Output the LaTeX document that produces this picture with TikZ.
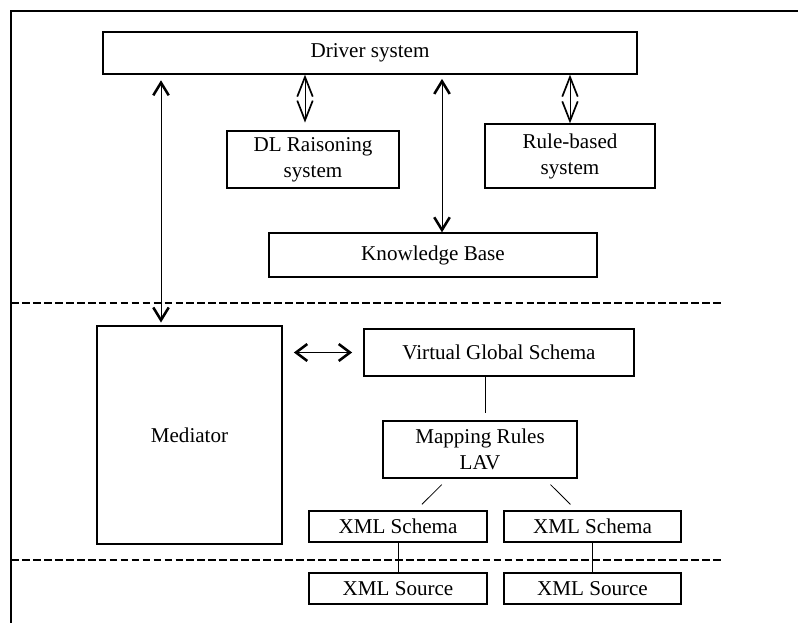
\documentclass[tikz,border=0pt]{standalone}
\usepackage{fontspec}
\setmainfont{Liberation Serif}
\usetikzlibrary{arrows.meta,calc,positioning}

\begin{document}
\begin{tikzpicture}[x=0.025cm,y=-0.025cm,semithick,font=\fontsize{15}{18.5}\selectfont]
  \tikzstyle{block}=[draw=black,line width=0.9pt,inner sep=0pt,align=center]
  \tikzstyle{longlink}=[{Straight Barb[length=9pt,width=11pt,line width=1.8pt]}-{Straight Barb[length=9pt,width=11pt,line width=1.8pt]}]
  \tikzstyle{shortlink}=[{Straight Barb[length=14pt,width=11pt,line width=1.2pt]}-{Straight Barb[length=14pt,width=11pt,line width=1.2pt]}]
  \tikzstyle{sidelink}=[{Straight Barb[length=8pt,width=12pt,line width=1.8pt]}-{Straight Barb[length=8pt,width=12pt,line width=1.8pt]}]
  \tikzstyle{layer}=[line width=1.9pt,dash pattern=on 5.5pt off 2.3pt]

  \useasboundingbox (0,0) rectangle (798,623);

  % frame
  \draw[line width=1pt] (798,11) -- (11,11) -- (11,623);

  % upper layer
  \node[block,minimum width=13.35cm,minimum height=1.05cm] (drv)  at (370,53)    {Driver system};
  \node[block,minimum width=4.3cm,minimum height=1.425cm]  (dl)   at (313,159.5) {DL Raisoning\\system};
  \node[block,minimum width=4.25cm,minimum height=1.6cm]   (rule) at (570,156)   {Rule-based\\system};
  \node[block,minimum width=8.2cm,minimum height=1.1cm]    (kb)   at (433,255)   {Knowledge Base};

  % mediator layer
  \node[block,minimum width=4.625cm,minimum height=5.45cm] (med)  at (189.5,435) {Mediator};
  \node[block,minimum width=6.75cm,minimum height=1.175cm] (vgs)  at (499,352.5) {Virtual Global Schema};
  \node[block,minimum width=4.85cm,minimum height=1.425cm] (map)  at (480,449.5) {Mapping Rules\\LAV};
  \node[block,minimum width=4.45cm,minimum height=0.775cm] (schL) at (398,526.5) {XML Schema};
  \node[block,minimum width=4.425cm,minimum height=0.775cm] (schR) at (592.5,526.5) {XML Schema};

  % sources
  \node[block,minimum width=4.45cm,minimum height=0.775cm] (srcL) at (398,588.5) {XML Source};
  \node[block,minimum width=4.425cm,minimum height=0.775cm] (srcR) at (592.5,588.5) {XML Source};

  \draw[layer] (11,303) -- (723,303);
  \draw[layer] (11,560) -- (723,560);

  \coordinate (a1) at (161,0);
  \coordinate (a2) at (305,0);
  \coordinate (a3) at (442,0);
  \coordinate (a4) at (485,0);

  \draw[longlink,shorten <=4pt,shorten >=2pt] (drv.south -| a1) -- (med.north -| a1);
  \draw[shortlink,shorten >=5.5pt] (drv.south -| a2) -- (dl.north -| a2);
  \draw[longlink,shorten <=3pt] (drv.south -| a3) -- (kb.north -| a3);
  \draw[shortlink] (drv.south -| rule.north) -- (rule.north);
  \draw[sidelink,shorten <=8pt,shorten >=8pt] (med.east |- vgs.west) -- (vgs.west);

  \draw[shorten >=5pt] (vgs.south -| a4) -- (map.north -| a4);
  \draw[shorten <=6pt,shorten >=6pt] ($(map.south west)!.335!(map.south east)$) -- ($(schL.north west)!.6!(schL.north east)$);
  \draw[shorten <=6pt,shorten >=6pt] ($(map.south west)!.83!(map.south east)$) -- ($(schR.north west)!.41!(schR.north east)$);
  \draw (schL) -- (srcL);
  \draw (schR) -- (srcR);
\end{tikzpicture}
\end{document}
